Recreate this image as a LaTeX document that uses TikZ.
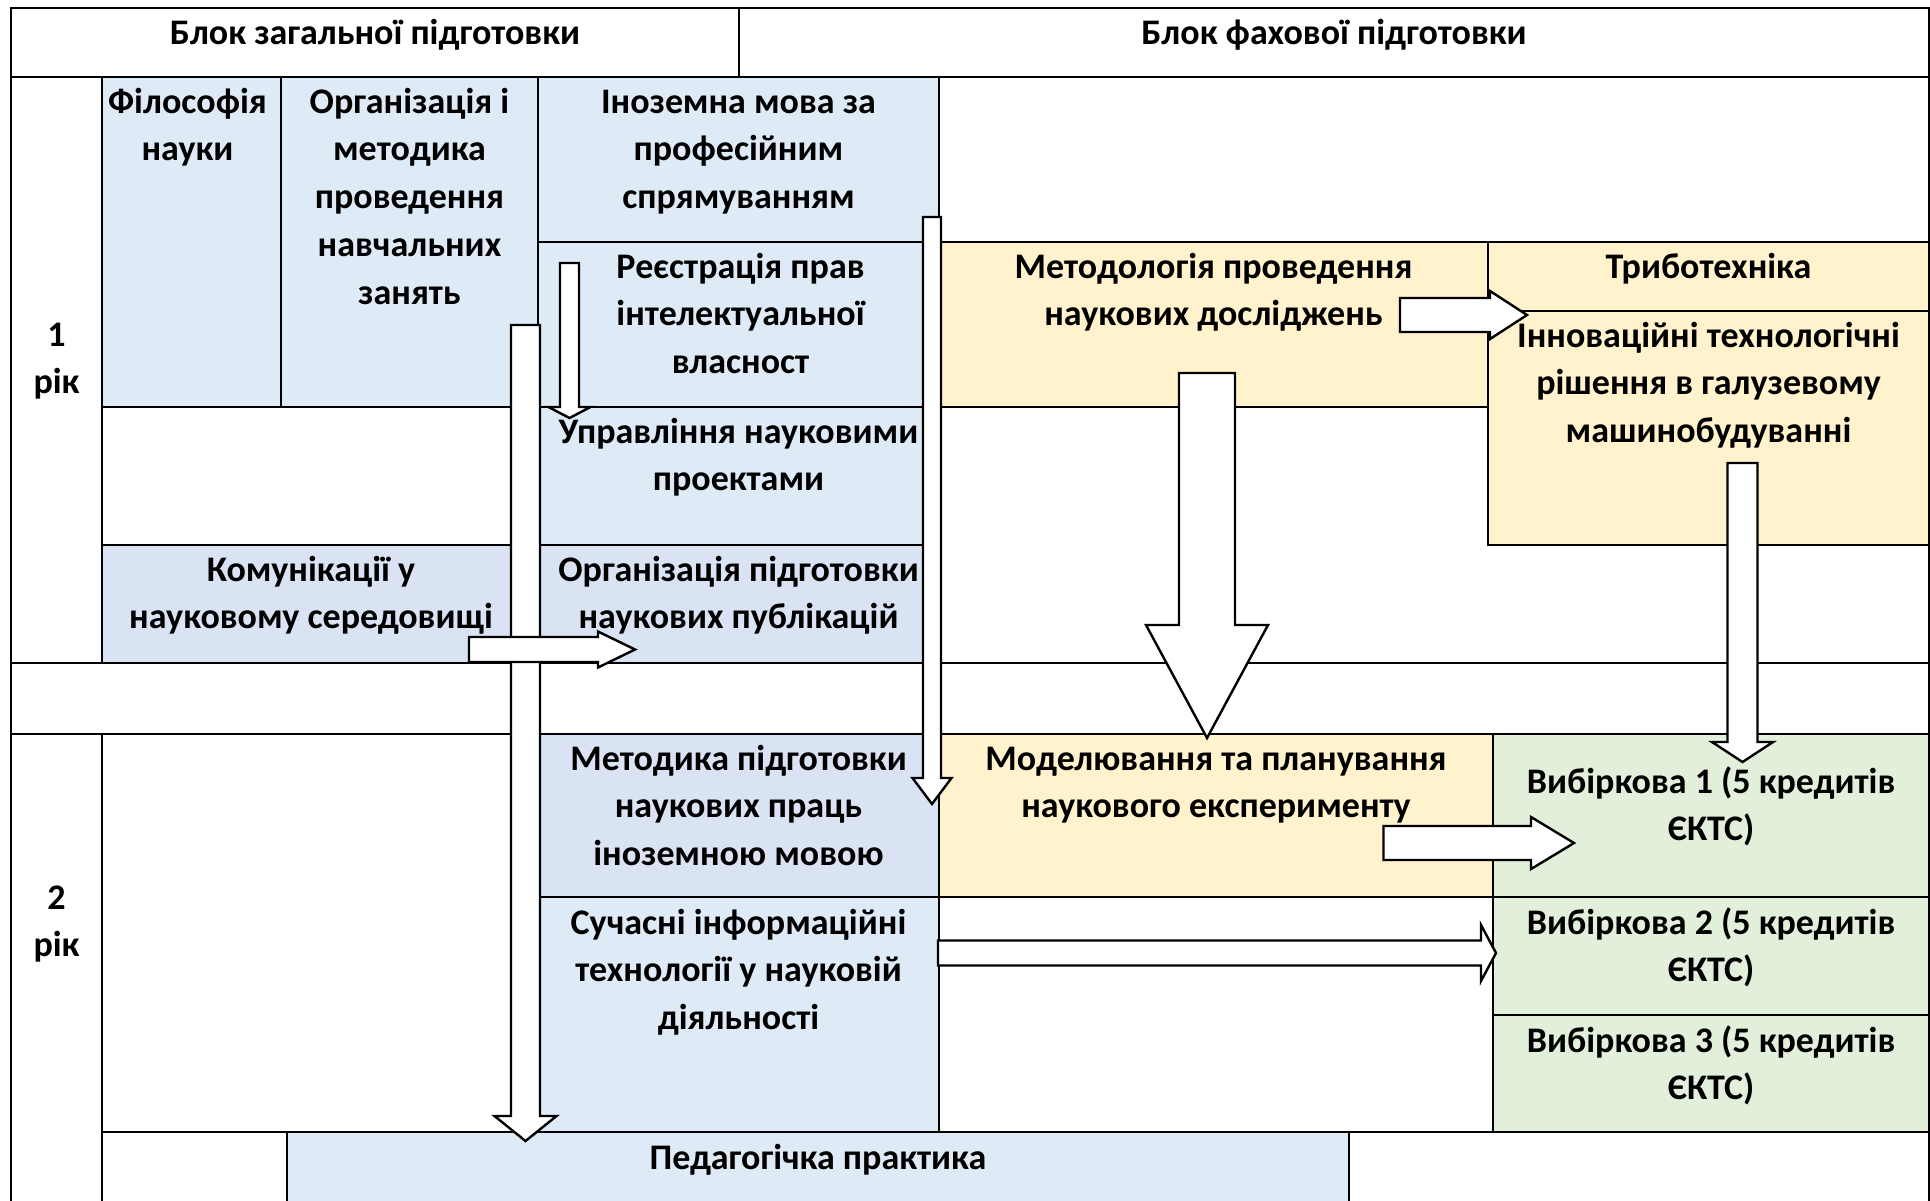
\documentclass[tikz,border=0pt]{standalone}
\usepackage{fontspec}
\setmainfont{Carlito}
\usetikzlibrary{positioning, fit, calc}

\definecolor{paleblue}{HTML}{DEEBF7}
\definecolor{greyblue}{HTML}{DAE3F3}
\definecolor{paleyellow}{HTML}{FFF2CC}
\definecolor{palegreen}{HTML}{E2EFDA}

\tikzset{
  cell/.style={draw, line width=1pt, inner sep=0pt},
  txt/.style={font=\bfseries\fontsize{18}{23.9}\selectfont, align=center, inner sep=0pt},
  blockarr/.style={draw, fill=white, line width=1.2pt, line join=miter}
}
\newcommand{\tstrut}{\rule{0pt}{14pt}}
% #1 from, #2 tip, #3 half shaft, #4 half head, #5 head length
\newcommand{\downblk}[5]{%
  \draw[blockarr] let \p1=(#1), \p2=(#2) in
    (\x1-#3,\y1) -- (\x1+#3,\y1) -- (\x1+#3,\y2+#5) -- (\x1+#4,\y2+#5)
    -- (\x2,\y2) -- (\x1-#4,\y2+#5) -- (\x1-#3,\y2+#5) -- cycle;}
\newcommand{\rightblk}[5]{%
  \draw[blockarr] let \p1=(#1), \p2=(#2) in
    (\x1,\y1+#3) -- (\x2-#5,\y1+#3) -- (\x2-#5,\y1+#4) -- (\x2,\y2)
    -- (\x2-#5,\y1-#4) -- (\x2-#5,\y1-#3) -- (\x1,\y1-#3) -- cycle;}

\begin{document}
\begin{tikzpicture}[x=0.5pt, y=-0.5pt, node distance=4.3pt]
  \useasboundingbox (0,0) rectangle (1930,1200);
  \clip (0,0) rectangle (1930,1200);

  % header
  \node[cell, fit={(11,8) (739,77)}] (hgen) {};
  \node[cell, fit={(739,8) (1929,77)}] (hspec) {};

  % year 1
  \node[cell, fit={(11,77) (102,663)}] (yr1) {};
  \node[cell, fill=paleblue, fit={(102,77) (281,407)}] (fil) {};
  \node[cell, fill=paleblue, fit={(281,77) (538,407)}] (org) {};
  \node[cell, fill=paleblue, fit={(538,77) (939,242)}] (ino) {};
  \node[cell, fit={(939,77) (1929,242)}] (top1) {};
  \node[cell, fit={(939,407) (1929,663)}] (blank2) {};
  \node[cell, fill=paleblue, fit={(538,242) (939,407)}] (reg) {};
  \node[cell, fill=paleyellow, fit={(939,242) (1488,407)}] (metod) {};
  \node[cell, fill=paleyellow, fit={(1488,242) (1929,311)}] (tribo) {};
  \node[cell, fill=paleyellow, fit={(1488,311) (1929,545)}] (innov) {};
  \node[cell, fit={(102,407) (538,545)}] (blank1) {};
  \node[cell, fill=paleblue, fit={(538,407) (939,545)}] (upr) {};
  \node[cell, fill=greyblue, fit={(102,545) (538,663)}] (kom) {};
  \node[cell, fill=greyblue, fit={(538,545) (939,663)}] (orgp) {};

  % gap
  \node[cell, fit={(11,663) (1929,734)}] (gap) {};

  % year 2
  \node[cell, fit={(11,734) (102,1230)}] (yr2) {};
  \node[cell, fit={(102,734) (538,1132)}] (blank4) {};
  \node[cell, fill=greyblue, fit={(538,734) (939,897)}] (metp) {};
  \node[cell, fill=paleyellow, fit={(939,734) (1493,897)}] (model) {};
  \node[cell, fill=palegreen, fit={(1493,734) (1929,897)}] (vyb1) {};
  \node[cell, fill=paleblue, fit={(538,897) (939,1132)}] (suchas) {};
  \node[cell, fit={(939,897) (1493,1132)}] (blank5) {};
  \node[cell, fill=palegreen, fit={(1493,897) (1929,1015)}] (vyb2) {};
  \node[cell, fill=palegreen, fit={(1493,1015) (1929,1132)}] (vyb3) {};
  \node[cell, fit={(102,1132) (287,1230)}] (blank6) {};
  \node[cell, fill=paleblue, fit={(287,1132) (1349,1230)}] (ped) {};
  \node[cell, fit={(1349,1132) (1929,1230)}] (blank7) {};

  % texts
  \node[txt, below=of hgen.north] (hgentxt) {\tstrut Блок загальної підготовки};
  \node[txt, below=of hspec.north] (hspectxt) {\tstrut Блок фахової підготовки};
  \node[txt, below=120.8pt of yr1.north] (yr1txt) {\tstrut 1\\рік};
  \node[txt, below=of fil.north, xshift=-2pt] (filtxt) {\tstrut Філософія\\науки};
  \node[txt, below=of org.north] (orgtxt) {\tstrut Організація і\\методика\\проведення\\навчальних\\занять};
  \node[txt, below=of ino.north] (inotxt) {\tstrut Іноземна мова за\\професійним\\спрямуванням};
  \node[txt, below=of reg.north, xshift=1pt] (regtxt) {\tstrut Реєстрація прав\\інтелектуальної\\власност};
  \node[txt, below=of metod.north] (metodtxt) {\tstrut Методологія проведення\\наукових досліджень};
  \node[txt, below=of tribo.north] (tribotxt) {\tstrut Триботехніка};
  \node[txt, below=of innov.north] (innovtxt) {\tstrut Інноваційні технологічні\\рішення в галузевому\\машинобудуванні};
  \node[txt, below=of upr.north] (uprtxt) {\tstrut Управління науковими\\проектами};
  \node[txt, below=of kom.north, xshift=-4.5pt] (komtxt) {\tstrut Комунікації у\\науковому середовищі};
  \node[txt, below=of orgp.north] (orgptxt) {\tstrut Організація підготовки\\наукових публікацій};
  \node[txt, below=73.8pt of yr2.north] (yr2txt) {\tstrut 2\\рік};
  \node[txt, below=of metp.north] (metptxt) {\tstrut Методика підготовки\\наукових праць\\іноземною мовою};
  \node[txt, below=of model.north] (modeltxt) {\tstrut Моделювання та планування\\наукового експерименту};
  \node[txt, below=15.8pt of vyb1.north] (vyb1txt) {\tstrut Вибіркова 1 (5 кредитів\\ЄКТС)};
  \node[txt, below=4.8pt of suchas.north] (suchastxt) {\tstrut Сучасні інформаційні\\технології у науковій\\діяльності};
  \node[txt, below=4.8pt of vyb2.north] (vyb2txt) {\tstrut Вибіркова 2 (5 кредитів\\ЄКТС)};
  \node[txt, below=4.8pt of vyb3.north] (vyb3txt) {\tstrut Вибіркова 3 (5 кредитів\\ЄКТС)};
  \node[txt, below=4.8pt of ped.north] (pedtxt) {\tstrut Педагогічка практика};

  % arrow ends
  \coordinate (regS) at (569.5,263);   \coordinate (uprT) at (569.5,418);
  \coordinate (orgS) at (525.5,325);   \coordinate (pedT) at (525.5,1141);
  \coordinate (inoS) at (932,217);     \coordinate (metpT) at (932,804);
  \coordinate (komS) at (469,649.5);   \coordinate (orgpT) at (635,649.5);
  \coordinate (metodS) at (1400,315);  \coordinate (innovT) at (1527,315);
  \coordinate (metodD) at (1207,373);  \coordinate (modelT) at (1207,738);
  \coordinate (innovS) at (1742.5,463); \coordinate (vyb1T) at (1742.5,762);
  \coordinate (modelS) at (1383.5,843); \coordinate (vyb1L) at (1574,843);
  \coordinate (suchasS) at (938,953);  \coordinate (vyb2T) at (1496,953);

  % block arrows
  \downblk{regS}{uprT}{4.75pt}{10.5pt}{5.5pt}
  \downblk{orgS}{pedT}{7.25pt}{15.5pt}{12.5pt}
  \downblk{inoS}{metpT}{4.5pt}{9.75pt}{13pt}
  \rightblk{komS}{orgpT}{6.25pt}{9pt}{18.5pt}
  \rightblk{metodS}{innovT}{8.5pt}{12pt}{18.5pt}
  \downblk{metodD}{modelT}{14pt}{30.5pt}{56.5pt}
  \downblk{innovS}{vyb1T}{7.5pt}{15.25pt}{10pt}
  \rightblk{modelS}{vyb1L}{8.5pt}{13pt}{21.5pt}
  \rightblk{suchasS}{vyb2T}{6.25pt}{14pt}{7.5pt}
\end{tikzpicture}
\end{document}
